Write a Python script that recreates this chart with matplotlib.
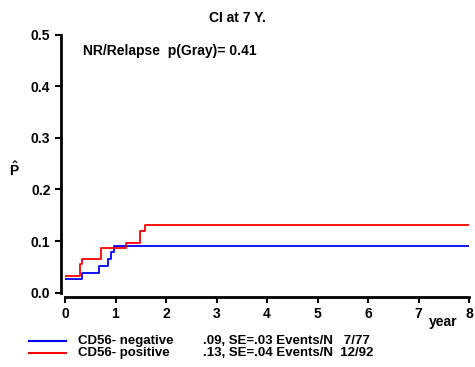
import matplotlib
matplotlib.use("Agg")
import matplotlib.pyplot as plt

neg_t = [0, 0.33, 0.68, 0.85, 0.91, 0.97, 8]
neg_p = [0.026, 0.039, 0.052, 0.065, 0.078, 0.090, 0.090]
pos_t = [0, 0.30, 0.33, 0.71, 1.21, 1.48, 1.59, 8]
pos_p = [0.032, 0.055, 0.065, 0.087, 0.097, 0.120, 0.131, 0.131]
xticks = [0, 1, 2, 3, 4, 5, 6, 7, 8]
yticks = [0.0, 0.1, 0.2, 0.3, 0.4, 0.5]
legend_names = ["CD56- negative", "CD56- positive"]
legend_stats = [".09, SE=.03 Events/N   7/77", ".13, SE=.04 Events/N  12/92"]
colors = ["#0000ff", "#ff0000"]

plt.rcParams['font.family'] = ['Liberation Sans', 'DejaVu Sans']
plt.rcParams['font.weight'] = 'bold'
plt.rcParams['mathtext.fontset'] = 'custom'
plt.rcParams['mathtext.bf'] = 'Liberation Sans:bold'
plt.rcParams['mathtext.rm'] = 'Liberation Sans:bold'

W, H = 475, 367
fig = plt.figure(figsize=(W/100, H/100), dpi=100)
x0, x1 = 65, 469
y0, y1 = 292.7, 34.5
ax = fig.add_axes([x0/W, 1 - y0/H, (x1-x0)/W, (y0-y1)/H])

ax.step(neg_t, neg_p, where='post', color=colors[0], lw=1.3)
ax.step(pos_t, pos_p, where='post', color=colors[1], lw=1.3)

ax.set_xlim(0, 8)
ax.set_ylim(0, 0.5)
ax.set_xticks(xticks)
ax.set_yticks(yticks)
ax.set_xticklabels([str(v) for v in xticks], fontsize=9.5, fontweight='bold')
ax.set_yticklabels([f"{v:.1f}" for v in yticks], fontsize=9.5, fontweight='bold')
for s in ['top', 'right']:
    ax.spines[s].set_visible(False)
for s in ['left', 'bottom']:
    ax.spines[s].set_linewidth(2)
    ax.spines[s].set_position(('outward', 3))
ax.tick_params(width=1.5, length=4)
ax.tick_params(axis='y', pad=3.5)
ax.tick_params(axis='x', pad=3)

fs = 10
fig.text(237/W, 1 - 18/H, "CI at 7 Y.", ha='center', va='center', fontsize=fs, fontweight='bold')
fig.text(83/W, 1 - 51/H, "NR/Relapse  p(Gray)= 0.41", ha='left', va='center', fontsize=fs, fontweight='bold')
fig.text(14/W, 1 - 170/H, r"$\hat{\mathbf{P}}$", ha='center', va='center', fontsize=fs)
fig.text(443/W, 1 - 322/H, "year", ha='center', va='center', fontsize=fs, fontweight='bold')

rows = [341, 353]
lfs = 9.5
for i in range(2):
    yy = 1 - rows[i]/H
    fig.add_artist(plt.Line2D([29/W, 66/W], [yy, yy], color=colors[i], lw=1.5))
    fig.text(78/W, yy, legend_names[i], ha='left', va='center', fontsize=lfs, fontweight='bold')
    fig.text(203/W, yy, legend_stats[i], ha='left', va='center', fontsize=lfs, fontweight='bold')

fig.savefig("out.png", dpi=100)
